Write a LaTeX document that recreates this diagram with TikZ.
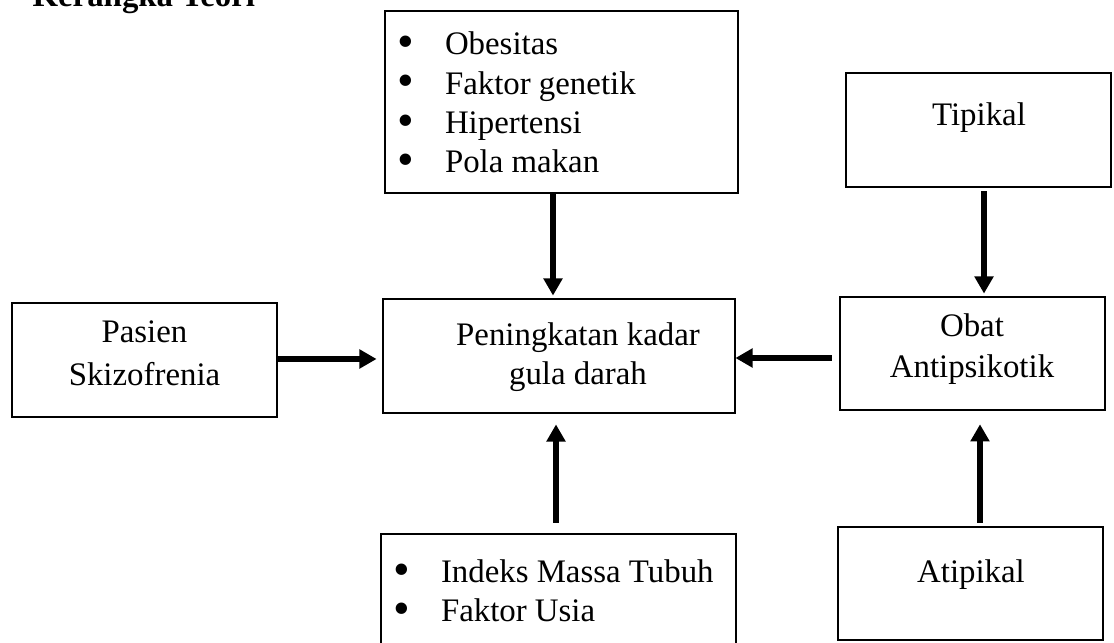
\documentclass[tikz,border=0pt]{standalone}
\usepackage{fontspec}
\usepackage{graphicx}
\setmainfont{Liberation Serif}
\usetikzlibrary{arrows.meta,fit}
\newcommand\bul{\makebox[16.6pt][l]{\raisebox{-0.9pt}{\scalebox{1.45}{\textbullet}}}}
\begin{document}
\begin{tikzpicture}[x=0.35pt,y=-0.35pt,
  box/.style={draw,line width=1pt,rectangle,inner sep=0pt},
  txt/.style={inner sep=0pt,anchor=base,font=\fontsize{11.5pt}{13.8pt}\selectfont},
  ltxt/.style={txt,anchor=base west},
  arr/.style={line width=2.4pt,-{Triangle[width=6.4pt,length=6pt]}}]
\useasboundingbox (0,0) rectangle (1114,643);
% title (cut at top)
\node[ltxt,font=\fontsize{11.5pt}{13.8pt}\selectfont\bfseries] (title) at (32,7) {Kerangka Teori};
% boxes
\node[box,fit={(385,11) (738,193)}] (faktor) {};
\node[box,fit={(383,299) (735,413)}] (gula) {};
\node[box,fit={(381,534) (736,660)}] (imt) {};
\node[box,fit={(12,303) (277,417)}] (pasien) {};
\node[box,fit={(846,73) (1111,187)}] (tipikal) {};
\node[box,fit={(840,297) (1105,410)}] (obat) {};
\node[box,fit={(838,527) (1103,640)}] (atipikal) {};
% texts
\node[ltxt] (f1) at (397,55) {\bul Obesitas};
\node[ltxt] (f2) at (397,94.3) {\bul Faktor genetik};
\node[ltxt] (f3) at (397,133.6) {\bul Hipertensi};
\node[ltxt] (f4) at (397,173) {\bul Pola makan};
\node[txt] (g1) at (578,346) {Peningkatan kadar};
\node[txt] (g2) at (578,385) {gula darah};
\node[txt] (p1) at (144.5,343) {Pasien};
\node[txt] (p2) at (144.5,386) {Skizofrenia};
\node[txt] (t1) at (979,126) {Tipikal};
\node[txt] (o1) at (972,337) {Obat};
\node[txt] (o2) at (972,378) {Antipsikotik};
\node[txt] (a1) at (971,583) {Atipikal};
\node[ltxt] (i1) at (393,583) {\bul Indeks Massa Tubuh};
\node[ltxt] (i2) at (393,622) {\bul Faktor Usia};
% arrow guide coordinates
\coordinate (xtop) at (553,0);
\coordinate (xbot) at (556,0);
\coordinate (xtip) at (984,0);
\coordinate (xati) at (980,0);
\coordinate (ypas) at (0,359);
\coordinate (yobt) at (0,358);
% arrows
\draw[arr,shorten <=-0.35pt,shorten >=0.7pt] (xtop |- faktor.south) -- (xtop |- gula.north);
\draw[arr,shorten <=3.5pt,shorten >=3.5pt] (xbot |- imt.north) -- (xbot |- gula.south);
\draw[arr,shorten >=1.75pt] (pasien.east |- ypas) -- (gula.west |- ypas);
\draw[arr,shorten <=2.45pt,shorten >=-0.35pt] (obat.west |- yobt) -- (gula.east |- yobt);
\draw[arr,shorten <=1pt,shorten >=0.7pt] (xtip |- tipikal.south) -- (xtip |- obat.north);
\draw[arr,shorten <=1pt,shorten >=4.5pt] (xati |- atipikal.north) -- (xati |- obat.south);
\end{tikzpicture}
\end{document}
